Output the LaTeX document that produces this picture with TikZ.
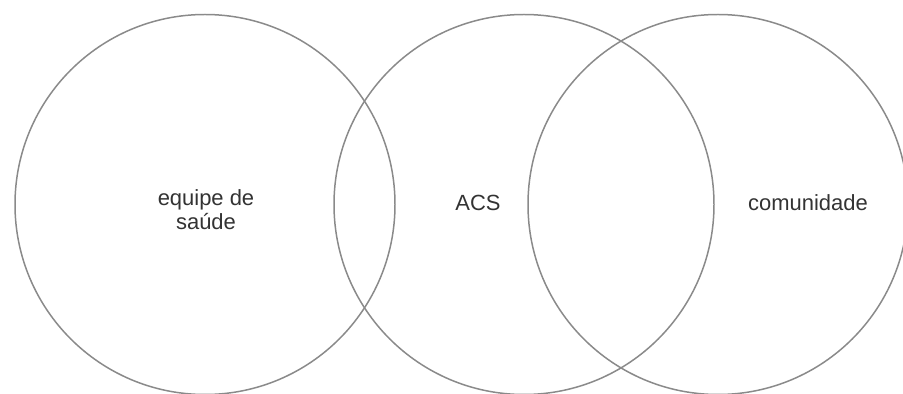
\documentclass[tikz,border=0pt]{standalone}
\usepackage{fontspec}
\newfontfamily\labelfont{Liberation Sans}
\usetikzlibrary{shapes, positioning}
\definecolor{ringgray}{HTML}{8A8A8A}
\definecolor{textgray}{HTML}{333333}

\begin{document}
\begin{tikzpicture}[
    zone/.style={circle, draw=ringgray, line width=0.85pt, fill=none,
        inner sep=0pt, outer sep=0pt, minimum size=7.6cm},
    label/.style={rectangle, draw=none, fill=none, text centered, align=center,
        text=textgray, font=\labelfont\fontsize{12.5}{13.6}\selectfont}
]
\useasboundingbox (0,0) rectangle (18.06,7.88);
\node (Zone01) [zone] at (4.10,3.79) {};
\node (Zone02) [zone] at (10.48,3.79) {};
\node (Zone03) [zone] at (14.36,3.79) {};
% labels
\node (L01) [label] at (4.12,3.68) {equipe de\\saúde};
\node (L02) [label] at (9.56,3.82) {ACS};
\node (L03) [label] at (16.16,3.82) {comunidade};
\end{tikzpicture}
\end{document}
